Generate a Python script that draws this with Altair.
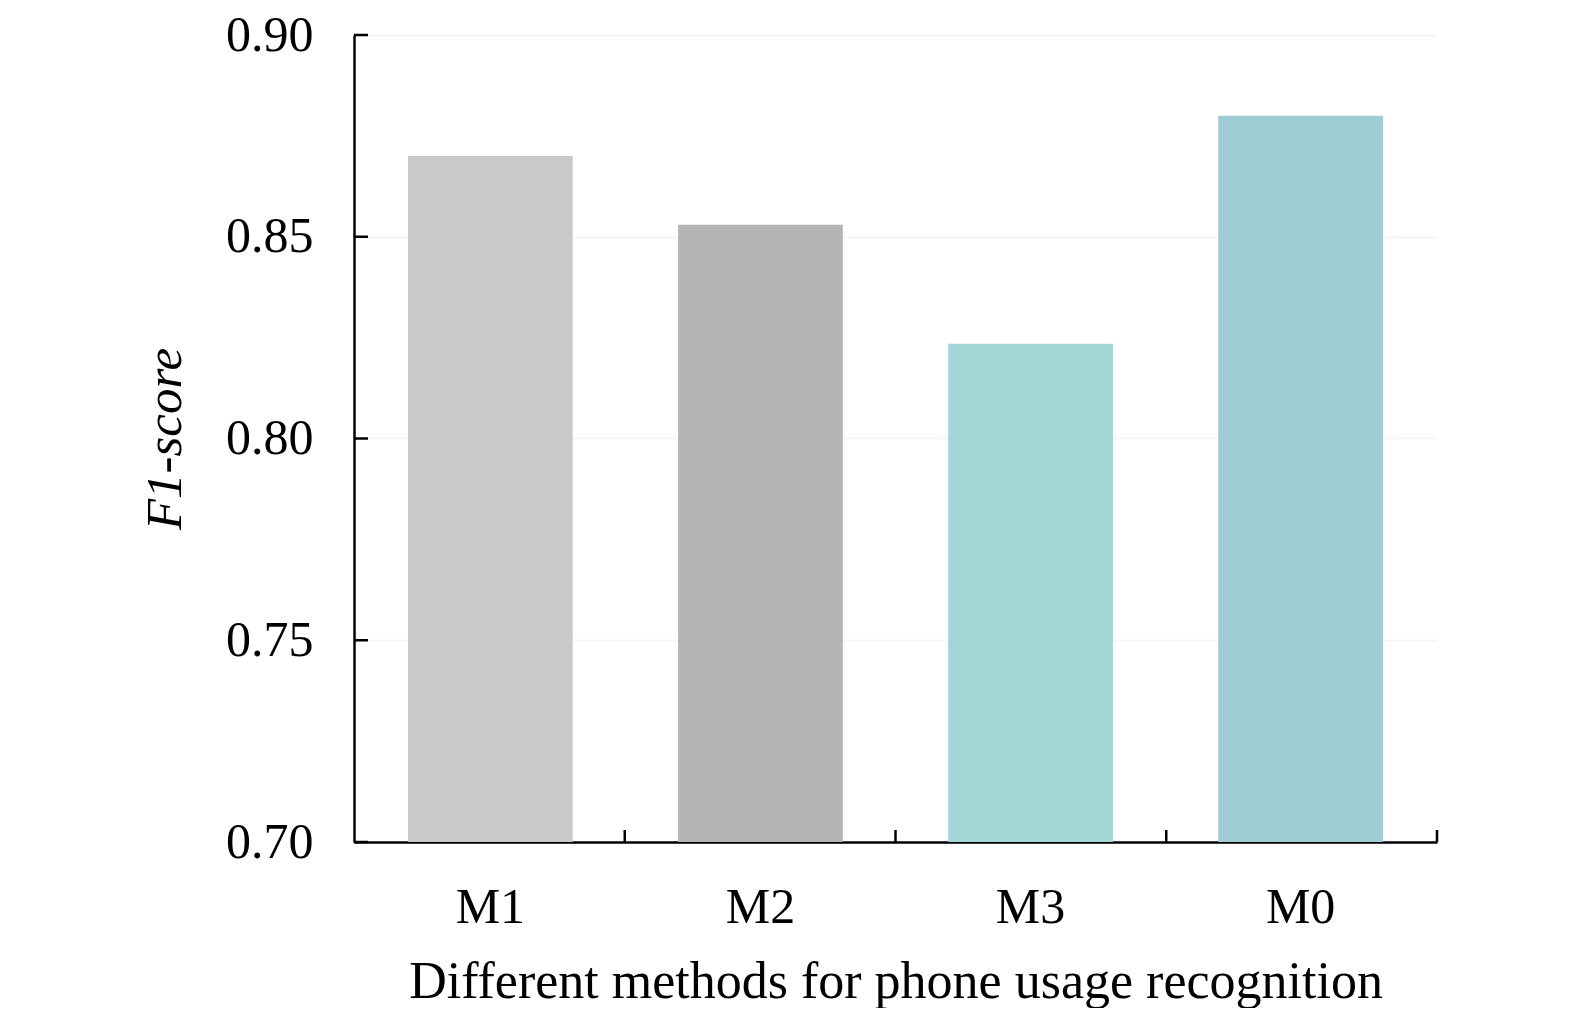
import altair as alt
import pandas as pd

methods = ["M1", "M2", "M3", "M0"]
f1_scores = [0.870, 0.853, 0.8235, 0.880]
bar_colors = ["#c9c9c9", "#b5b4b6", "#a3d6d6", "#a0ccd4"]
y_ticks = [0.70, 0.75, 0.80, 0.85, 0.90]

df = pd.DataFrame({"method": methods, "f1": f1_scores})
ytick_df = pd.DataFrame({"v": y_ticks})

W, H = 1083, 807
FONT = "Liberation Serif"

xscale = alt.Scale(domain=methods, paddingInner=0.39, paddingOuter=0.2)
xscale_ticks = alt.Scale(domain=methods, paddingInner=0, paddingOuter=0)
yscale = alt.Scale(domain=[0.7, 0.9], nice=False, zero=False)

bars = alt.Chart(df).mark_bar(clip=True).encode(
    x=alt.X("method:N", scale=xscale, sort=methods,
            axis=alt.Axis(title="Different methods for phone usage recognition",
                          labelAngle=0, ticks=False, domain=True,
                          domainColor="black", domainWidth=2.5,
                          labelFont=FONT, labelFontSize=50, labelColor="black",
                          labelPadding=40, labelBaseline="top",
                          titleFont=FONT, titleFontSize=52, titleFontWeight="normal",
                          titleColor="black", titlePadding=24, grid=False)),
    y=alt.Y("f1:Q", scale=yscale,
            axis=alt.Axis(title="F1-score", values=y_ticks, format=".2f",
                          ticks=False, domain=True, domainColor="black",
                          domainWidth=2.5, labelFont=FONT, labelFontSize=50,
                          labelColor="black", labelPadding=41,
                          titleFont=FONT, titleFontSize=51, titleFontStyle="italic",
                          titleFontWeight="normal", titleColor="black",
                          titlePadding=34, grid=True, gridColor="#f6f6f6",
                          gridWidth=2)),
    color=alt.Color("method:N", scale=alt.Scale(domain=methods, range=bar_colors),
                    legend=None),
)

yticks = alt.Chart(ytick_df).mark_rule(color="black", strokeWidth=2.5).encode(
    y=alt.Y("v:Q", scale=yscale),
    x=alt.value(0), x2=alt.value(14),
)

xticks = alt.Chart(df).mark_rule(color="black", strokeWidth=2.5).encode(
    x=alt.X("method:N", scale=xscale_ticks, sort=methods, bandPosition=1, axis=None),
    y=alt.value(H), y2=alt.value(H - 12),
)

chart = alt.layer(bars, yticks, xticks).resolve_scale(x="independent").properties(
    width=W, height=H,
    autosize=alt.AutoSizeParams(type="none"),
    padding={"left": 346, "top": 27, "right": 110, "bottom": 166},
    background="white",
).configure_view(stroke=None)

chart.save("out.html", embed_options={"renderer": "svg", "actions": False})
